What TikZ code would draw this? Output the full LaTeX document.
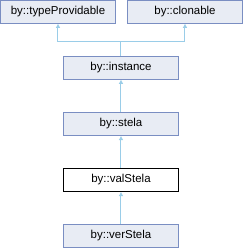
\documentclass[tikz,border=0pt]{standalone}
\usepackage{fontspec}
\setmainfont{Liberation Sans}
\usetikzlibrary{arrows.meta}
\definecolor{boxfill}{HTML}{E8ECF4}
\definecolor{boxline}{HTML}{7A8EC2}
\definecolor{link}{HTML}{9ACDE8}

\begin{document}
\begin{tikzpicture}[x=0.75pt, y=-0.75pt, every node/.style={font=\fontsize{8.6}{10}\selectfont}, >={Latex[length=3pt, width=3.5pt]}, cls/.style={draw=boxline, fill=boxfill, line width=0.75pt, minimum width=86.25pt, minimum height=17.25pt, inner sep=0pt}, cur/.style={cls, draw=black, fill=white}, inh/.style={<-, draw=link, line width=0.75pt}]
	\useasboundingbox (0,0) rectangle (244,248);
	\node[cls] (tp) at (58,11.75) {by::typeProvidable};
	\node[cls] (cl) at (185,11.75) {by::clonable};
	\node[cls] (in) at (121,67.75) {by::instance};
	\node[cls] (st) at (121,124) {by::stela};
	\node[cur] (vs) at (121,180) {by::valStela};
	\node[cls] (vr) at (121,235.75) {by::verStela};
	\coordinate (j) at (121,41);
	\draw[inh] (tp) |- (j);
	\draw[inh] (cl) |- (j);
	\draw[link, line width=0.75pt] (j) -- (in);
	\draw[inh] (in) -- (st);
	\draw[inh] (st) -- (vs);
	\draw[inh] (vs) -- (vr);
\end{tikzpicture}
\end{document}
